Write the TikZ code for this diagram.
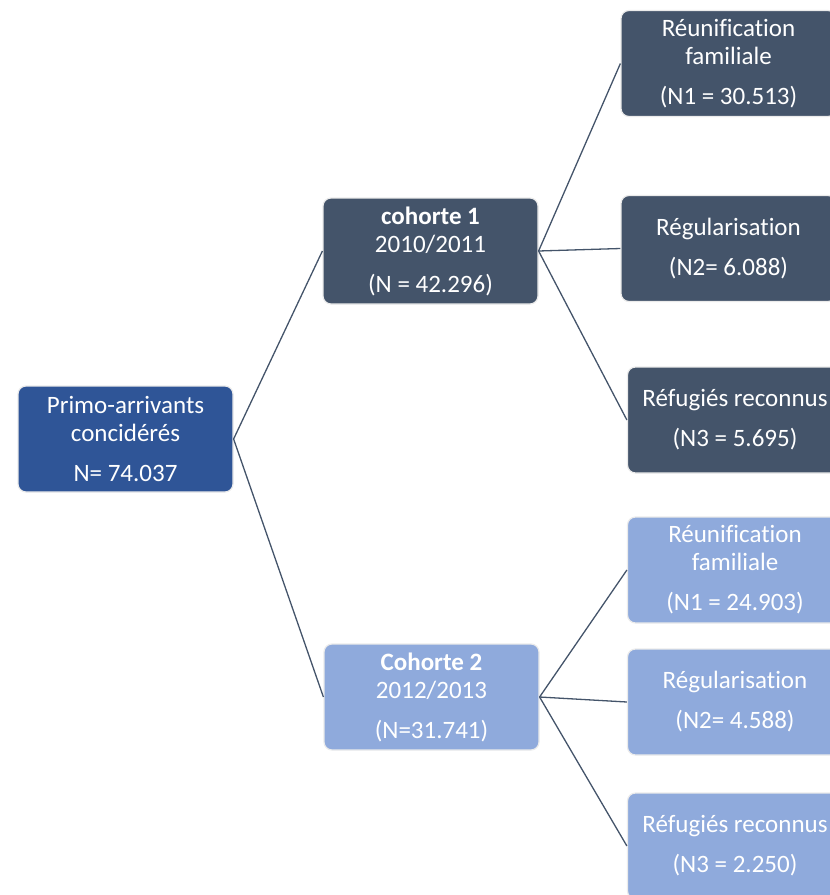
\documentclass[tikz,border=0pt]{standalone}
\usepackage{fontspec}
\setmainfont{Carlito}[Ligatures=NoCommon]
\definecolor{myroot}{RGB}{47,85,151}
\definecolor{mydark}{RGB}{68,84,106}
\definecolor{mylight}{RGB}{143,170,220}
\definecolor{myline}{RGB}{68,84,106}
\usetikzlibrary{positioning}

\begin{document}
\begin{tikzpicture}[x=1pt,y=-1pt,
    every node/.style={rectangle,rounded corners=8pt,draw=black!8,line width=1.2pt,
        text=white,align=center,minimum width=215pt,minimum height=106pt,
        inner sep=0pt,font=\fontsize{25}{28}\selectfont},
    rootnode/.style={fill=myroot},
    darknode/.style={fill=mydark},
    lightnode/.style={fill=mylight},
    link/.style={myline,line width=1.3pt}
    ]
    \useasboundingbox (0,0) rectangle (830,895);
    \clip (0,0) rectangle (830,895);

    % the root
    \node[rootnode] (root) at (125.5,439) {Primo-arrivants\\concidérés\\[12pt]N= 74.037};

    % the two cohorts
    \node[darknode] (coh1) at (430.5,251) {\textbf{cohorte 1}\\2010/2011\\[12pt](N = 42.296)};
    \node[lightnode] (coh2) at (431.5,697) {\textbf{Cohorte 2}\\2012/2013\\[12pt](N=31.741)};

    % the leaves of cohort 1
    \node[darknode] (a1) at (728.5,63.5) {Réunification\\familiale\\[12pt](N1 = 30.513)};
    \node[darknode] (a2) at (728.5,248.5) {Régularisation\\[12pt](N2= 6.088)};
    \node[darknode] (a3) at (735,420) {Réfugiés reconnus\\[12pt](N3 = 5.695)};

    % the leaves of cohort 2
    \node[lightnode] (b1) at (735,570) {Réunification\\familiale\\[12pt](N1 = 24.903)};
    \node[lightnode] (b2) at (735,702) {Régularisation\\[12pt](N2= 4.588)};
    \node[lightnode] (b3) at (735,846) {Réfugiés reconnus\\[12pt](N3 = 2.250)};

    % the edges
    \draw[link] (root.east) -- (coh1.west);
    \draw[link] (root.east) -- (coh2.west);
    \foreach \i in {1,2,3}
    \draw[link] (coh1.east) -- (a\i.west);
    \foreach \i in {1,2,3}
    \draw[link] (coh2.east) -- (b\i.west);
\end{tikzpicture}
\end{document}
